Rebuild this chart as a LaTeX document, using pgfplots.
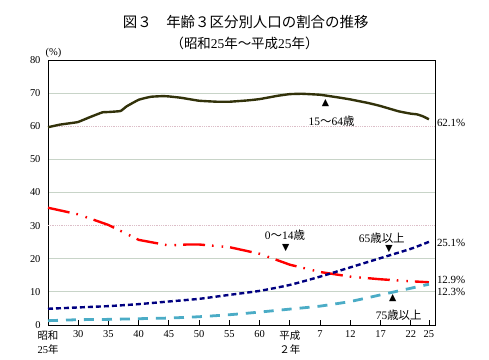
\documentclass[border=0pt]{standalone}
\usepackage{pgfplots}
\pgfplotsset{compat=1.18}
\usepackage{fontspec}
\setmainfont{Liberation Serif}
\newfontfamily\jp{Noto Sans CJK JP}
\newfontfamily\sym{DejaVu Sans}
\newcommand\J[1]{{\jp #1}}
\definecolor{olive1}{RGB}{50,50,10}
\definecolor{navy1}{RGB}{0,0,128}
\definecolor{lblue}{RGB}{75,172,198}
\definecolor{gridg}{RGB}{200,212,200}
\definecolor{gridp}{RGB}{220,190,200}
\begin{document}
\begin{tikzpicture}[x=1bp,y=1bp]
\useasboundingbox (-48bp,-35bp) rectangle (441bp,325bp);
\begin{axis}[
  at={(0,0)}, anchor=south west,
  scale only axis, width=387bp, height=265bp,
  xmin=1950, xmax=2014, ymin=0, ymax=80,
  clip=false,
  axis line style={line width=1pt},
  xtick={1950,1955,1960,1965,1970,1975,1980,1985,1990,1995,2000,2005,2010,2013},
  xticklabels={{\J{昭和}\\25\J{年}},30,35,40,45,50,55,60,{\J{平成}\\\J{２年}},7,12,17,22,25},
  xticklabel style={align=center, font=\fontsize{10.5}{14}\selectfont, anchor=north, yshift=-2.5bp},
  xtick pos=bottom, tick align=inside, major tick length=5bp,
  x tick style={line width=0.9pt, black},
  ytick={0,10,20,40,50,70,80},
  extra y ticks={30,60},
  extra y tick style={grid style={densely dotted, gridp, line width=0.7pt}},
  ytick style={draw=none},
  yticklabel style={font=\fontsize{10.5}{12}\selectfont, xshift=-4bp},
  ymajorgrids, grid style={gridg, line width=0.8pt},
  /pgf/number format/assume math mode=true,
]
% 15-64
\addplot[olive1, line width=2.4pt, smooth, tension=0.2] coordinates {
(1950,59.7)(1952,60.5)(1954,61.0)(1955,61.3)(1957,62.8)(1959,64.2)(1960,64.3)(1962,64.6)(1963,66.0)(1965,68.0)(1967,68.9)(1969,69.1)(1970,69.0)(1972,68.6)(1975,67.7)(1978,67.4)(1980,67.4)(1983,67.8)(1985,68.2)(1988,69.2)(1990,69.7)(1992,69.8)(1995,69.5)(1998,68.7)(2000,68.1)(2003,67.0)(2005,66.1)(2008,64.5)(2010,63.8)(2011,63.6)(2012,63.0)(2013,62.1)};
% 0-14
\addplot[red, line width=2.4pt, dash pattern=on 22bp off 7bp on 1.6bp off 8bp on 1.6bp off 7bp] coordinates {
(1950,35.4)(1955,33.4)(1960,30.2)(1965,25.7)(1970,24.0)(1973,24.3)(1975,24.3)(1980,23.5)(1985,21.5)(1990,18.2)(1995,16.0)(2000,14.6)(2005,13.8)(2010,13.2)(2013,12.9)};
% 65+
\addplot[navy1, line width=2.4pt, dash pattern=on 5bp off 3bp, smooth, tension=0.3] coordinates {
(1950,4.9)(1955,5.3)(1960,5.7)(1965,6.3)(1970,7.1)(1975,7.9)(1980,9.1)(1985,10.3)(1990,12.1)(1995,14.6)(2000,17.4)(2005,20.2)(2010,23.0)(2013,25.1)};
% 75+
\addplot[lblue, line width=2.8pt, dash pattern=on 10bp off 8bp, smooth, tension=0.3] coordinates {
(1950,1.3)(1955,1.6)(1960,1.7)(1965,1.9)(1970,2.1)(1975,2.5)(1980,3.1)(1985,3.9)(1990,4.8)(1995,5.7)(2000,7.1)(2005,9.1)(2010,11.1)(2013,12.3)};
% titles
\node[font=\jp\fontsize{14.5}{16}\selectfont] at (axis cs:1982.7,91.6) {図３　年齢３区分別人口の割合の推移};
\node[font=\fontsize{13.5}{16}\selectfont] at (axis cs:1982.5,84.9) {\J{（昭和}25\J{年～平成}25\J{年）}};
\node[font=\fontsize{10.5}{12}\selectfont] at (axis cs:1950.9,82.2) {(\%)};
% annotations
\node[font=\fontsize{11.5}{12}\selectfont] at (axis cs:1996.9,61.5) {15\J{～}64\J{歳}};
\node[font=\sym\fontsize{9.5}{10}\selectfont, inner sep=0pt] at (axis cs:1995.9,67.0) {▲};
\node[font=\fontsize{11.5}{12}\selectfont] at (axis cs:1989.2,27.2) {0\J{～}14\J{歳}};
\node[font=\sym\fontsize{9.5}{10}\selectfont, inner sep=0pt] at (axis cs:1989.3,23.2) {▼};
\node[font=\fontsize{11.5}{12}\selectfont] at (axis cs:2005.2,26.3) {65\J{歳以上}};
\node[font=\sym\fontsize{9.5}{10}\selectfont, inner sep=0pt] at (axis cs:2006.4,22.9) {▼};
\node[font=\fontsize{11.5}{12}\selectfont] at (axis cs:2008.0,3.0) {75\J{歳以上}};
\node[font=\sym\fontsize{9.5}{10}\selectfont, inner sep=0pt] at (axis cs:2007.0,8.2) {▲};
% end labels
\node[font=\fontsize{11}{12}\selectfont, anchor=west, inner sep=0pt] at (axis cs:2014.3,61.0) {62.1\%};
\node[font=\fontsize{11}{12}\selectfont, anchor=west, inner sep=0pt] at (axis cs:2014.3,24.8) {25.1\%};
\node[font=\fontsize{11}{12}\selectfont, anchor=west, inner sep=0pt] at (axis cs:2014.3,13.6) {12.9\%};
\node[font=\fontsize{11}{12}\selectfont, anchor=west, inner sep=0pt] at (axis cs:2014.3,10.0) {12.3\%};
\end{axis}
\end{tikzpicture}
\end{document}
